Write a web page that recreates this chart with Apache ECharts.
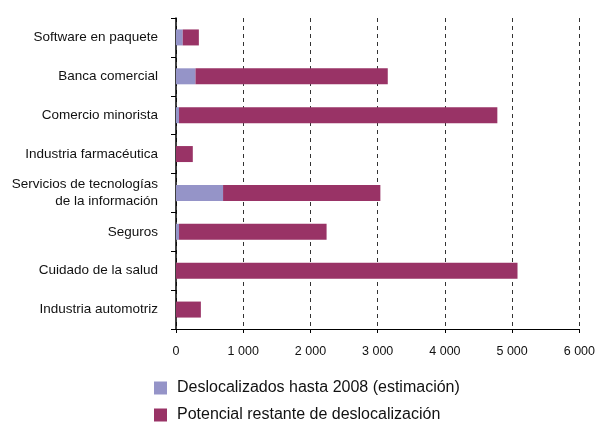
<!DOCTYPE html>
<html>
<head>
<meta charset="utf-8">
<script src="https://cdn.jsdelivr.net/npm/echarts@6/dist/echarts.min.js"></script>
<style>
  html, body { margin: 0; padding: 0; background: #fff; }
  #chart { width: 598px; height: 423px; }
</style>
</head>
<body>
<div id="chart"></div>
<script>
// sectores, de arriba a abajo
const categories = [
  'Software en paquete',
  'Banca comercial',
  'Comercio minorista',
  'Industria farmacéutica',
  'Servicios de tecnologías\nde la información',
  'Seguros',
  'Cuidado de la salud',
  'Industria automotriz'
];
const deslocalizados = [100, 290, 45, 0, 700, 45, 0, 0];
const totales = [340, 3150, 4780, 250, 3040, 2240, 5080, 370];
const restante = totales.map((t, i) => t - deslocalizados[i]);

const serieA = 'Deslocalizados hasta 2008 (estimación)';
const serieB = 'Potencial restante de deslocalización';

const chart = echarts.init(document.getElementById('chart'));

const legendBase = {
  left: 154,
  padding: 0,
  itemWidth: 13,
  itemHeight: 13,
  icon: 'rect',
  textStyle: { fontSize: 16, color: '#111', padding: [0, 0, 0, 5] }
};

chart.setOption({
  animation: false,
  textStyle: { fontFamily: 'Liberation Sans, Arial, sans-serif' },
  grid: { left: 176, right: 17, top: 18, height: 311 },
  legend: [
    Object.assign({}, legendBase, { top: 380, data: [serieA] }),
    Object.assign({}, legendBase, { top: 407, data: [serieB] })
  ],
  xAxis: {
    type: 'value',
    min: 0,
    max: 6000,
    interval: 1000,
    axisLine: { show: true, lineStyle: { color: '#000' } },
    axisTick: { show: true, length: 4, lineStyle: { color: '#000' } },
    axisLabel: {
      fontSize: 12.5,
      color: '#111',
      margin: 16,
      formatter: v => v >= 1000 ? String(v).replace(/(\d)(\d{3})$/, '$1 $2') : String(v)
    },
    splitLine: { show: true, lineStyle: { color: '#333', type: [4, 4] } }
  },
  yAxis: {
    type: 'category',
    inverse: true,
    data: categories,
    axisLine: { show: true, lineStyle: { color: '#000', width: 1.5 } },
    axisTick: { show: true, length: 5, lineStyle: { color: '#000' } },
    axisLabel: { fontSize: 13.5, color: '#111', margin: 18, lineHeight: 17 }
  },
  series: [
    {
      name: serieA,
      type: 'bar',
      stack: 'total',
      barWidth: 16,
      itemStyle: { color: '#9594C8' },
      data: deslocalizados
    },
    {
      name: serieB,
      type: 'bar',
      stack: 'total',
      barWidth: 16,
      itemStyle: { color: '#993366' },
      data: restante
    }
  ]
});
</script>
</body>
</html>
